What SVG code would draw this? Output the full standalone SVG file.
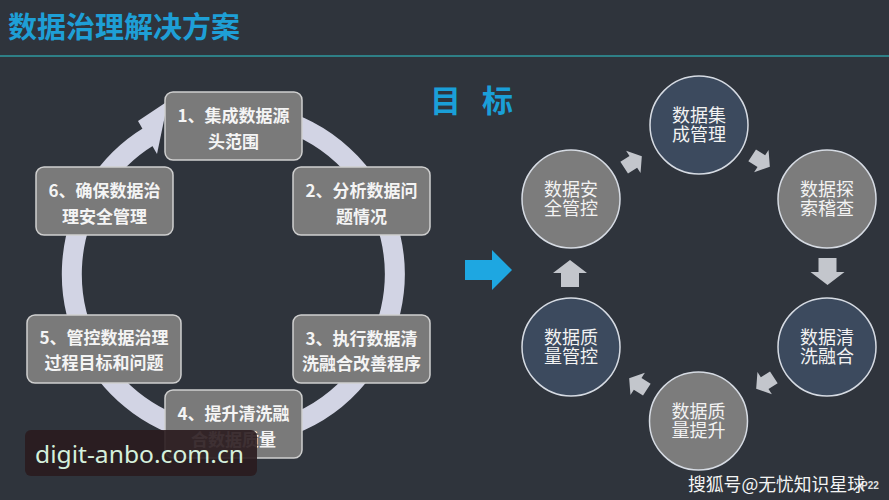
<svg xmlns="http://www.w3.org/2000/svg" xmlns:xlink="http://www.w3.org/1999/xlink" width="889" height="500" viewBox="0 0 889 500">
<style>
.cjk{font-family:"Noto Sans CJK SC","Noto Sans",sans-serif}
.box{fill:#7a7a7a;stroke:#cfcfcf;stroke-width:1.5}
.bt{font-family:"Noto Sans CJK SC","Noto Sans",sans-serif;font-size:17px;font-weight:bold;fill:#f4f4f4;text-anchor:middle}
.cg{fill:#7c7c7c;stroke:#d6dbe3;stroke-width:1.5}
.cb{fill:#3c4a5e;stroke:#d6dbe3;stroke-width:1.5}
.ct{font-family:"Noto Sans CJK SC","Noto Sans",sans-serif;font-size:18px;fill:#f2f2f2;text-anchor:middle}
.ga{fill:#c3c6cc}
</style>
<defs>
<path id="ba" d="M-13.5,-9 H0.5 V-17 L13.5,0 L0.5,17 V9 H-13.5 Z"/>
</defs>
<rect width="889" height="500" fill="#2f343c"/>
<text x="8" y="38" class="cjk" font-size="29" font-weight="bold" fill="#1e9fd6">数据治理解决方案</text>
<rect x="0" y="55" width="889" height="2" fill="#2e7f86"/>
<text x="430" y="112" class="cjk" font-size="31" font-weight="bold" fill="#1a9fd8" textLength="83" lengthAdjust="spacing">目 标</text>

<g id="connectors">
<path d="M205.5,115 A161.5,161.5 0 1 1 149.4,136.1" fill="none" stroke="#d2d4e4" stroke-width="20"/>
<polygon points="138,121 157,154 168,101" fill="#d2d4e4"/>
<polygon points="465,260 492,260 492,250 512,270 492,290 492,280 465,280" fill="#1ea7e1"/>
<use href="#ba" class="ga" transform="translate(633,162) rotate(-33) scale(0.78)"/>
<use href="#ba" class="ga" transform="translate(761,161) rotate(33) scale(0.78)"/>
<use href="#ba" class="ga" transform="translate(827.5,271.5) rotate(90)"/>
<use href="#ba" class="ga" transform="translate(765,383) rotate(147) scale(0.78)"/>
<use href="#ba" class="ga" transform="translate(638,384) rotate(-147) scale(0.78)"/>
<use href="#ba" class="ga" transform="translate(570,273.5) rotate(-90)"/>
</g>

<g id="step1"><rect class="box" x="165" y="92" width="137" height="68" rx="8"/>
<text class="bt" x="233.5" y="121.5">1、集成数据源</text><text class="bt" x="233.5" y="147.5">头范围</text></g>
<g id="step2"><rect class="box" x="293" y="167" width="137" height="68" rx="8"/>
<text class="bt" x="361.5" y="196.5">2、分析数据问</text><text class="bt" x="361.5" y="222.5">题情况</text></g>
<g id="step3"><rect class="box" x="293" y="315" width="137" height="68" rx="8"/>
<text class="bt" x="361.5" y="344.5">3、执行数据清</text><text class="bt" x="361.5" y="370">洗融合改善程序</text></g>
<g id="step4"><rect class="box" x="165" y="390" width="137" height="68" rx="8"/>
<text class="bt" x="233.5" y="419.5">4、提升清洗融</text><text class="bt" x="233.5" y="445.5">合数据质量</text></g>
<g id="step5"><rect class="box" x="27" y="315" width="154" height="68" rx="8"/>
<text class="bt" x="104" y="344">5、管控数据治理</text><text class="bt" x="104" y="369">过程目标和问题</text></g>
<g id="step6"><rect class="box" x="36" y="167" width="137" height="68" rx="8"/>
<text class="bt" x="104.5" y="196.5">6、确保数据治</text><text class="bt" x="104.5" y="222.5">理安全管理</text></g>

<g id="goal1"><circle class="cb" cx="699" cy="125" r="49"/>
<text class="ct" x="699" y="122.3">数据集</text><text class="ct" x="699" y="141.3">成管理</text></g>
<g id="goal2"><circle class="cg" cx="827" cy="199" r="49"/>
<text class="ct" x="827" y="196.3">数据探</text><text class="ct" x="827" y="215.3">索稽查</text></g>
<g id="goal3"><circle class="cb" cx="827" cy="347" r="49"/>
<text class="ct" x="827" y="344.3">数据清</text><text class="ct" x="827" y="363.3">洗融合</text></g>
<g id="goal4"><circle class="cg" cx="698.5" cy="421" r="49"/>
<text class="ct" x="698.5" y="418.3">数据质</text><text class="ct" x="698.5" y="437.3">量提升</text></g>
<g id="goal5"><circle class="cb" cx="571" cy="347" r="49"/>
<text class="ct" x="571" y="344.3">数据质</text><text class="ct" x="571" y="363.3">量管控</text></g>
<g id="goal6"><circle class="cg" cx="571" cy="199" r="49"/>
<text class="ct" x="571" y="196.3">数据安</text><text class="ct" x="571" y="215.3">全管控</text></g>

<g id="watermark">
<rect x="25" y="430" width="232" height="46" rx="6" fill="#2a1b1e" fill-opacity="0.9"/>
<text x="35" y="463" font-family="Noto Sans, DejaVu Sans, sans-serif" font-size="24" fill="#d5f0dc" textLength="209" lengthAdjust="spacingAndGlyphs">digit-anbo.com.cn</text>
<text x="861" y="489" font-family="Liberation Sans, sans-serif" font-size="10" font-weight="bold" fill="#e0e0e0">P22</text>
<text x="688" y="491" class="cjk" font-size="18" fill="#f4f4f4" textLength="177" lengthAdjust="spacingAndGlyphs">搜狐号@无忧知识星球</text>
</g>
</svg>
